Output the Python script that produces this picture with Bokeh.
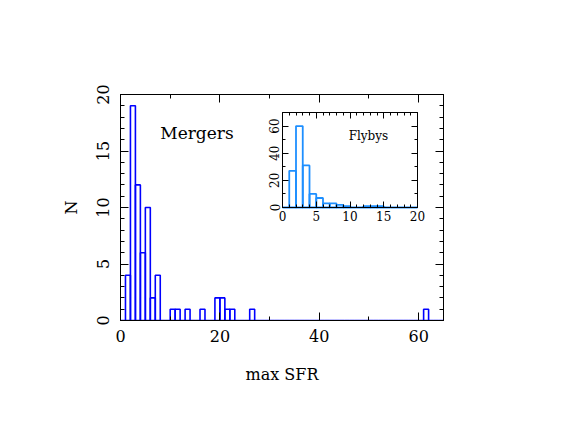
import numpy as np
from bokeh.plotting import figure
from bokeh.models import (SingleIntervalTicker, LinearAxis, ColumnDataSource,
                          Label, Range1d)
from bokeh.embed import file_html
from bokeh.resources import INLINE

# ---- data: main histogram (Mergers), unit-width bins starting at 0 ----
merger_bin_starts = list(range(0, 65))
merger_counts = [0, 4, 19, 12, 6, 10, 2, 4, 0, 0,
                 1, 1, 0, 1, 0, 0, 1, 0, 0, 2,
                 2, 1, 1, 0, 0, 0, 1, 0, 0, 0,
                 0, 0, 0, 0, 0, 0, 0, 0, 0, 0,
                 0, 0, 0, 0, 0, 0, 0, 0, 0, 0,
                 0, 0, 0, 0, 0, 0, 0, 0, 0, 0,
                 0, 1, 0, 0, 0]
bin_width = 1

# ---- data: inset histogram (Flybys) ----
flyby_bin_starts = list(range(0, 20))
flyby_counts = [0, 27, 60, 31, 10, 7, 3, 3, 2, 1,
                0, 0, 1, 1, 1, 0, 0, 0, 0, 0]

FONT = "DejaVu Serif"
MAIN_COLOR = "#0000ff"
INSET_COLOR = "#1e8fff"

# inset placement inside the main frame (frame pixels: 323 x 226)
INSET_X = (0, 20)
INSET_Y = (0, 70)
ix_px, ix_off = 6.75, 162      # px per unit, offset of inset left from frame left
iy_px, iy_off = 95 / 70, 113   # px per unit, offset of inset bottom from frame bottom
FRAME_W, FRAME_H = 323, 226


def style_axis(ax, major_in, minor_in, size, show_labels=True):
    ax.major_tick_in = major_in
    ax.major_tick_out = 0
    ax.minor_tick_in = minor_in
    ax.minor_tick_out = 0
    ax.axis_line_color = "black"
    ax.major_tick_line_color = "black"
    ax.minor_tick_line_color = "black"
    ax.major_label_text_font = FONT
    ax.major_label_text_font_style = "normal"
    if show_labels:
        ax.major_label_text_font_size = size
        ax.major_label_text_color = "black"
    else:
        ax.major_label_text_font_size = "1px"
        ax.major_label_text_color = None
        ax.major_label_standoff = 0


# ---------------- main figure ----------------
p = figure(width=548, height=420, output_backend="svg", toolbar_location=None,
           x_range=(0, 65), y_range=(0, 20),
           min_border_left=120, min_border_right=105,
           min_border_top=94, min_border_bottom=100)
p.grid.visible = False
p.outline_line_color = "black"
p.background_fill_color = "white"
p.border_fill_color = "white"

m_left = np.array(merger_bin_starts, dtype=float)
src = ColumnDataSource(dict(left=m_left, right=m_left + bin_width,
                            top=merger_counts, bottom=[0] * len(merger_counts)))
p.quad(left="left", right="right", top="top", bottom="bottom", source=src,
       fill_color=None, line_color=MAIN_COLOR, line_width=1.6)

p.xaxis.ticker = SingleIntervalTicker(interval=20, num_minor_ticks=2)
p.yaxis.ticker = SingleIntervalTicker(interval=5, num_minor_ticks=5)
style_axis(p.xaxis[0], 8, 4, "16px")
style_axis(p.yaxis[0], 8, 4, "16px")
p.xaxis.major_label_standoff = 9
p.yaxis.major_label_standoff = 12
p.yaxis.major_label_orientation = "vertical"
p.xaxis.axis_label = "max SFR"
p.yaxis.axis_label = "N"
for ax in (p.xaxis[0], p.yaxis[0]):
    ax.axis_label_text_font = FONT
    ax.axis_label_text_font_style = "normal"
    ax.axis_label_text_font_size = "16px"
    ax.axis_label_text_color = "black"
p.xaxis.axis_label_standoff = 20
p.yaxis.axis_label_standoff = 13

top_ax = LinearAxis(ticker=SingleIntervalTicker(interval=20, num_minor_ticks=2))
right_ax = LinearAxis(ticker=SingleIntervalTicker(interval=5, num_minor_ticks=5))
style_axis(top_ax, 8, 4, "1px", show_labels=False)
style_axis(right_ax, 8, 4, "1px", show_labels=False)
p.add_layout(top_ax, "above")
p.add_layout(right_ax, "right")

p.add_layout(Label(x=8, y=16.6, text="Mergers", text_font=FONT,
                   text_font_size="17px", text_color="black",
                   text_baseline="alphabetic"))

# ---------------- inset (drawn in extra ranges of the same figure) ----------------
ixs = -ix_off / ix_px
iys = -iy_off / iy_px
p.extra_x_ranges = {"ix": Range1d(ixs, ixs + FRAME_W / ix_px)}
p.extra_y_ranges = {"iy": Range1d(iys, iys + FRAME_H / iy_px)}

f_left = np.array(flyby_bin_starts, dtype=float)
src2 = ColumnDataSource(dict(left=f_left, right=f_left + bin_width,
                             top=flyby_counts, bottom=[0] * len(flyby_counts)))
p.quad(left="left", right="right", top="top", bottom="bottom", source=src2,
       fill_color=None, line_color=INSET_COLOR, line_width=1.8,
       x_range_name="ix", y_range_name="iy")

ib = LinearAxis(x_range_name="ix", y_range_name="iy", bounds=INSET_X,
                fixed_location=INSET_Y[0],
                ticker=SingleIntervalTicker(interval=5, num_minor_ticks=5))
il = LinearAxis(x_range_name="ix", y_range_name="iy", bounds=INSET_Y,
                fixed_location=INSET_X[0],
                ticker=SingleIntervalTicker(interval=20, num_minor_ticks=2))
it = LinearAxis(x_range_name="ix", y_range_name="iy", bounds=INSET_X,
                fixed_location=INSET_Y[1],
                ticker=SingleIntervalTicker(interval=5, num_minor_ticks=5))
ir = LinearAxis(x_range_name="ix", y_range_name="iy", bounds=INSET_Y,
                fixed_location=INSET_X[1],
                ticker=SingleIntervalTicker(interval=20, num_minor_ticks=2))
style_axis(ib, 6, 3, "12px")
style_axis(il, 6, 3, "12px")
style_axis(it, 6, 3, "1px", show_labels=False)
style_axis(ir, 6, 3, "1px", show_labels=False)
ib.major_label_standoff = 3
il.major_label_standoff = 3
il.major_label_orientation = "vertical"
p.add_layout(ib, "below")
p.add_layout(il, "left")
p.add_layout(it, "above")
p.add_layout(ir, "right")

p.add_layout(Label(x=9.8, y=52.5, text="Flybys", text_font=FONT,
                   text_font_size="12px", text_color="black",
                   text_baseline="alphabetic",
                   x_range_name="ix", y_range_name="iy"))

open("out.html", "w").write(file_html(p, INLINE))
